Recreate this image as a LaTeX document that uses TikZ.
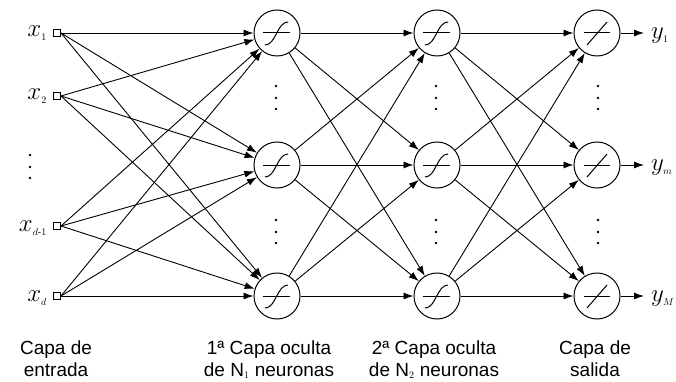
\documentclass[tikz,border=0pt]{standalone}
\usepackage{amsmath}
\usepackage{fontspec}
\setmainfont{Liberation Sans}
\usetikzlibrary{arrows.meta}
\newcommand{\tinysub}[1]{\text{\fontsize{10}{10}\selectfont$#1$}}
\begin{document}
\begin{tikzpicture}[x=1pt,y=-1pt,
  neuron/.style={circle,draw,line width=1pt,minimum size=46pt,inner sep=0pt},
  inp/.style={rectangle,draw,line width=1pt,minimum size=7pt,inner sep=0pt},
  conn/.style={line width=0.9pt,-{Latex[length=10pt,width=7pt]}},
  sym/.style={line width=1pt},
  lbl/.style={font=\fontsize{19}{22}\selectfont,align=center,anchor=base},
  vlab/.style={font=\fontsize{24}{26}\selectfont,inner sep=0pt},
  dotm/.style={circle,fill,inner sep=0pt,minimum size=2.8pt}
]
\useasboundingbox (0,0) rectangle (676,382);

% input squares
\node[inp] (i1) at (57,33) {};
\node[inp] (i2) at (57,96) {};
\node[inp] (i3) at (57,226) {};
\node[inp] (i4) at (57,296) {};

% input labels
\node[vlab,anchor=east] (lx1) at (47,33) {$x_{\tinysub{1}}$};
\node[vlab,anchor=east] (lx2) at (47,96) {$x_{\tinysub{2}}$};
\node[vlab,anchor=east] (lx3) at (47,228) {$x_{\tinysub{d\text{-}1}}$};
\node[vlab,anchor=east] (lx4) at (47,298) {$x_{\tinysub{d}}$};

% hidden and output neurons
\foreach \c/\x in {h/277,g/437,o/597}{
  \node[neuron] (\c1) at (\x,33) {};
  \node[neuron] (\c2) at (\x,165) {};
  \node[neuron] (\c3) at (\x,296) {};
}

% activation symbols
\foreach \n in {h1,h2,h3,g1,g2,g3}{
  \begin{scope}[shift={(\n.center)}]
    \draw[sym] (-14,0) -- (13,0);
    \draw[sym] (-12,12) .. controls (-1,12) and (0,-11) .. (11,-11);
  \end{scope}
}
\foreach \n in {o1,o2,o3}{
  \begin{scope}[shift={(\n.center)}]
    \draw[sym] (-13,0) -- (13,0);
    \draw[sym] (-10,12) -- (10,-11);
  \end{scope}
}

% connections input -> hidden 1
\foreach \i in {1,2,3,4}{
  \foreach \j in {1,2,3}{
    \draw[conn] (i\i.east) -- (h\j);
  }
}
% hidden 1 -> hidden 2
\foreach \i in {1,2,3}{
  \foreach \j in {1,2,3}{
    \draw[conn] (h\i) -- (g\j);
  }
}
% hidden 2 -> output
\foreach \i in {1,2,3}{
  \foreach \j in {1,2,3}{
    \draw[conn] (g\i) -- (o\j);
  }
}

% outputs
\coordinate (e1) at (644,33);
\coordinate (e2) at (644,165);
\coordinate (e3) at (644,296);
\draw[conn] (o1) -- (e1);
\draw[conn] (o2) -- (e2);
\draw[conn] (o3) -- (e3);
\node[vlab,anchor=west] (ly1) at (651,36) {$y_{\tinysub{1}}$};
\node[vlab,anchor=west] (ly2) at (651,168) {$y_{\tinysub{m}}$};
\node[vlab,anchor=west] (ly3) at (651,299) {$y_{\tinysub{M}}$};

% dots
\foreach \y in {155,167,178}{ \node[dotm] at (30,\y) {}; }
\foreach \x in {276,436,598}{
  \foreach \y in {86,98,109,220,232,243}{ \node[dotm] at (\x,\y) {}; }
}

% bottom labels
\node[lbl] (t1) at (56,376) {Capa de\\entrada};
\node[lbl] (t2) at (269,376) {1ª Capa oculta\\de N$_{\tinysub{1}}$ neuronas};
\node[lbl] (t3) at (434,376) {2ª Capa oculta\\de N$_{\tinysub{2}}$ neuronas};
\node[lbl] (t4) at (595,376) {Capa de\\salida};
\end{tikzpicture}
\end{document}
